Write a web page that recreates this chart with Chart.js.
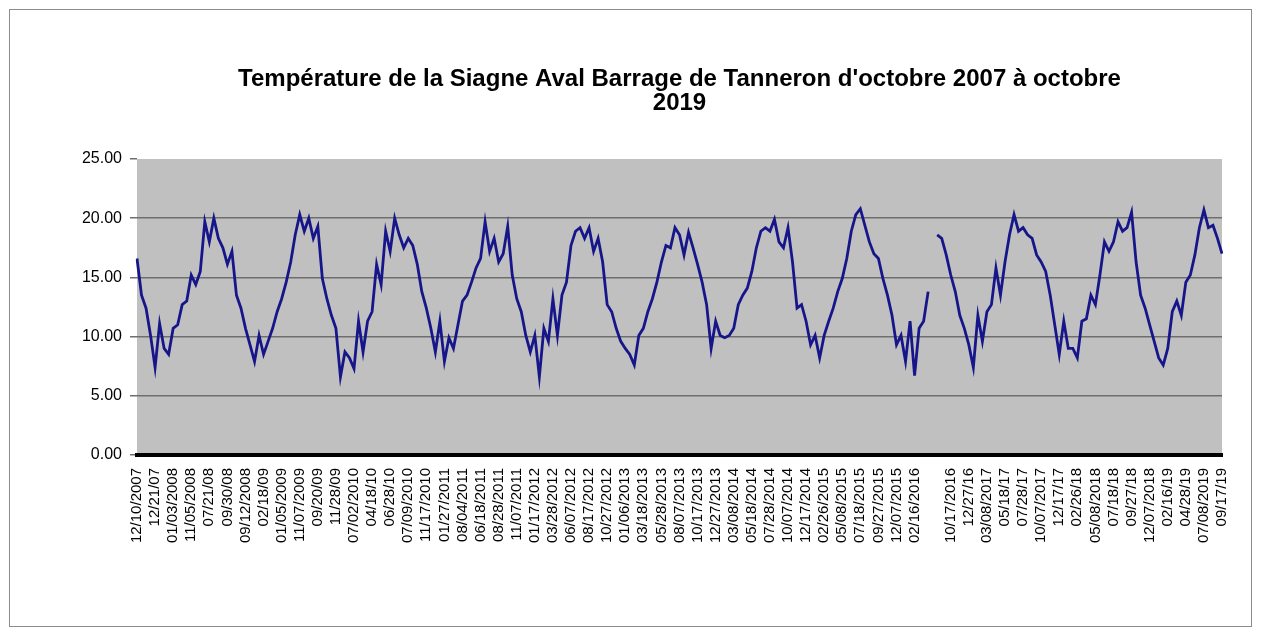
<!DOCTYPE html>
<html>
<head>
<meta charset="utf-8">
<script src="https://cdn.jsdelivr.net/npm/chart.js@4/dist/chart.umd.min.js"></script>
<style>
  html, body { margin: 0; padding: 0; background: #fff; }
  #wrap { width: 1261px; height: 636px; position: relative; }
</style>
</head>
<body>
<div id="wrap"><canvas id="tempChart"></canvas></div>
<script>
// tick labels, one every 4 readings (empty slot where the logger had a gap)
const tickLabels = [
  '12/10/2007', '12/21/07', '01/03/2008', '11/05/2008', '07/21/08', '09/30/08',
  '09/12/2008', '02/18/09', '01/05/2009', '11/07/2009', '09/20/09', '11/28/09',
  '07/02/2010', '04/18/10', '06/28/10', '07/09/2010', '11/17/2010', '01/27/2011',
  '08/04/2011', '06/18/2011', '08/28/2011', '11/07/2011', '01/17/2012', '03/28/2012',
  '06/07/2012', '08/17/2012', '10/27/2012', '01/06/2013', '03/18/2013', '05/28/2013',
  '08/07/2013', '10/17/2013', '12/27/2013', '03/08/2014', '05/18/2014', '07/28/2014',
  '10/07/2014', '12/17/2014', '02/26/2015', '05/08/2015', '07/18/2015', '09/27/2015',
  '12/07/2015', '02/16/2016', '', '10/17/2016', '12/27/16', '03/08/2017',
  '05/18/17', '07/28/17', '10/07/2017', '12/17/17', '02/26/18', '05/08/2018',
  '07/18/18', '09/27/18', '12/07/2018', '02/16/19', '04/28/19', '07/08/2019',
  '09/17/19'
];
const readingsPerLabel = 4;

// water temperature (°C)
const temperature = [
  16.6, 13.5, 12.4, 10.1, 7.4, 11.1, 9.0, 8.5, 10.7, 11.0,
  12.7, 13.0, 15.2, 14.4, 15.5, 19.7, 18.0, 20.0, 18.3, 17.5,
  16.1, 17.2, 13.5, 12.4, 10.7, 9.3, 7.9, 10.1, 8.5, 9.6,
  10.7, 12.1, 13.2, 14.6, 16.3, 18.6, 20.3, 18.9, 20.0, 18.3,
  19.3, 14.9, 13.2, 11.8, 10.7, 6.6, 8.7, 8.2, 7.3, 11.3,
  8.7, 11.3, 12.1, 16.1, 14.4, 18.9, 17.2, 20.0, 18.6, 17.5,
  18.3, 17.7, 16.1, 13.8, 12.4, 10.7, 8.7, 11.3, 7.9, 9.9,
  9.0, 11.0, 13.0, 13.5, 14.6, 15.8, 16.6, 19.7, 17.2, 18.3,
  16.3, 17.0, 19.3, 15.2, 13.2, 12.1, 10.1, 8.7, 10.1, 6.6,
  10.7, 9.6, 13.2, 10.1, 13.5, 14.6, 17.7, 18.9, 19.2, 18.3,
  19.2, 17.2, 18.3, 16.3, 12.7, 12.1, 10.7, 9.6, 9.0, 8.5,
  7.6, 10.1, 10.7, 12.1, 13.2, 14.6, 16.3, 17.7, 17.5, 19.2,
  18.6, 16.9, 18.8, 17.5, 16.1, 14.6, 12.7, 9.0, 11.3, 10.1,
  9.9, 10.1, 10.7, 12.7, 13.5, 14.1, 15.5, 17.5, 18.9, 19.2,
  18.9, 19.9, 18.0, 17.5, 19.2, 16.3, 12.4, 12.7, 11.3, 9.3,
  10.1, 8.2, 10.1, 11.3, 12.4, 13.8, 14.9, 16.6, 18.9, 20.3,
  20.8, 19.4, 18.0, 17.0, 16.6, 14.9, 13.5, 11.8, 9.3, 10.1,
  7.9, 11.3, 6.7, 10.7, 11.3, 13.8, null, 18.6, 18.3, 16.9,
  15.2, 13.8, 11.8, 10.7, 9.3, 7.4, 11.8, 9.6, 12.1, 12.7,
  15.8, 13.5, 16.3, 18.6, 20.3, 18.9, 19.2, 18.6, 18.3, 16.9,
  16.3, 15.5, 13.5, 11.0, 8.5, 11.3, 9.0, 9.0, 8.2, 11.3,
  11.5, 13.5, 12.7, 15.2, 18.0, 17.2, 18.0, 19.7, 18.9, 19.2,
  20.5, 16.3, 13.5, 12.4, 11.0, 9.6, 8.2, 7.6, 9.0, 12.1,
  13.0, 11.8, 14.6, 15.2, 16.9, 19.2, 20.7, 19.2, 19.4, 18.3,
  17.0
];

const yTicks = [0, 5, 10, 15, 20, 25];
const titleLines = ["Température de la Siagne Aval Barrage de Tanneron d'octobre 2007 à octobre", '2019'];

const categories = temperature.map((_, i) =>
  i % readingsPerLabel === 0 ? tickLabels[i / readingsPerLabel] : '');

const FONT = "'Liberation Sans', Arial, sans-serif";

const frame = {
  id: 'frame',
  beforeDraw(chart) {
    const { ctx, chartArea: a, width, height } = chart;
    ctx.save();
    ctx.fillStyle = '#fff';
    ctx.fillRect(0, 0, width, height);
    ctx.strokeStyle = '#8c8c8c';
    ctx.lineWidth = 1;
    ctx.strokeRect(9.5, 9.5, width - 19, height - 19);
    ctx.fillStyle = '#c0c0c0';
    ctx.fillRect(a.left, a.top, a.right - a.left, a.bottom - a.top);
    ctx.restore();
  }
};

new Chart(document.getElementById('tempChart'), {
  type: 'line',
  data: {
    labels: categories,
    datasets: [{
      data: temperature,
      borderColor: '#16168a',
      borderWidth: 2.8,
      pointRadius: 0,
      tension: 0,
      spanGaps: false
    }]
  },
  options: {
    responsive: true,
    maintainAspectRatio: false,
    animation: false,
    layout: { padding: { left: 20, right: 39, top: 10, bottom: 10 } },
    plugins: {
      legend: { display: false },
      tooltip: { enabled: false },
      title: {
        display: true,
        text: titleLines,
        fullSize: false,
        color: '#000',
        font: { family: FONT, size: 24, weight: 'bold', lineHeight: 1.0 },
        padding: { top: 57, bottom: 44 }
      }
    },
    scales: {
      x: {
        offset: false,
        grid: { display: false, drawTicks: false },
        border: { display: true, color: '#000', width: 4 },
        afterFit: s => { s.height = 636 - 455 - 10; },
        ticks: {
          autoSkip: false,
          minRotation: 90,
          maxRotation: 90,
          padding: 13,
          color: '#000',
          font: { family: FONT, size: 15 }
        }
      },
      y: {
        min: yTicks[0],
        max: yTicks[yTicks.length - 1],
        afterFit: s => { s.width = 117; },
        afterBuildTicks: s => { s.ticks = yTicks.map(v => ({ value: v })); },
        border: { display: false },
        grid: {
          color: c => (c.tick && (c.tick.value === 0 || c.tick.value === 25)) ? 'rgba(0,0,0,0)' : '#6e6e6e',
          tickColor: '#6e6e6e',
          lineWidth: 1.5,
          tickLength: 7
        },
        ticks: {
          padding: 8,
          color: '#000',
          font: { family: FONT, size: 16 },
          callback: v => Number(v).toFixed(2)
        }
      }
    }
  },
  plugins: [frame]
});
</script>
</body>
</html>
